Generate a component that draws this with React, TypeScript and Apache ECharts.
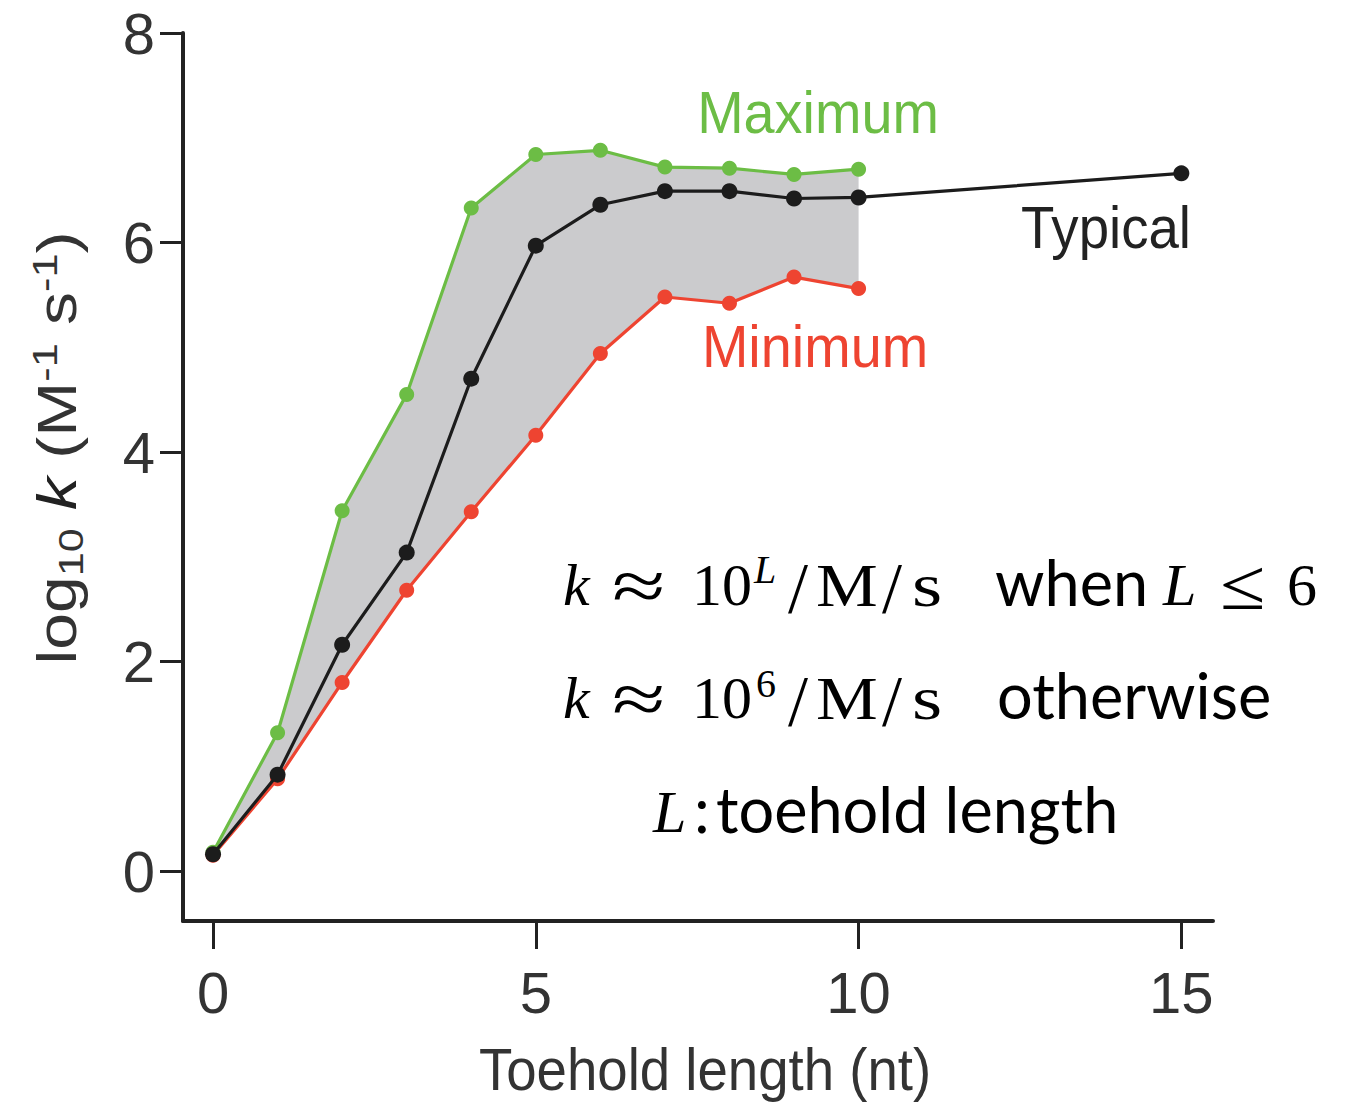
import React, { useEffect, useRef } from "react";
import * as echarts from "echarts";

const toeholdLengths = [0, 1, 2, 3, 4, 5, 6, 7, 8, 9, 10];
const typicalLengths = [0, 1, 2, 3, 4, 5, 6, 7, 8, 9, 10, 15];
const typicalValues = [0.16, 0.92, 2.16, 3.04, 4.7, 5.97, 6.36, 6.49, 6.49, 6.42, 6.43, 6.66];
const maximumValues = [0.18, 1.32, 3.44, 4.55, 6.33, 6.84, 6.88, 6.72, 6.71, 6.65, 6.7];
const minimumValues = [0.15, 0.88, 1.8, 2.68, 3.43, 4.16, 4.94, 5.48, 5.42, 5.67, 5.56];
const xTickValues = [0, 5, 10, 15];
const yTickValues = [0, 2, 4, 6, 8];

const SANS = "'Liberation Sans', Arial, Helvetica, sans-serif";
const SERIF = "'Liberation Serif', 'Times New Roman', serif";
const TEXT = "Lato, 'Open Sans', sans-serif";

const GREEN = "#6cbd45";
const RED = "#ee4431";
const BLACK = "#1c1c1c";
const AXIS = "#222222";
const BAND = "#cbcbcd";
const LABEL = "#333333";

function t(x: number, y: number, text: string, size: number, italic = false, family = SERIF, scaleX = 1) {
  return {
    type: "text",
    x,
    y,
    scaleX,
    style: {
      text,
      fill: "#000",
      font: `${italic ? "italic " : ""}${size}px ${family}`,
      align: "left",
      verticalAlign: "middle",
    },
  };
}

function label(x: number, y: number, text: string, color: string, scaleX: number) {
  return {
    type: "text",
    x,
    y,
    scaleX,
    style: { text, fill: color, font: `60px ${SANS}`, align: "center", verticalAlign: "middle" },
  };
}

export default function App() {
  const ref = useRef<HTMLDivElement>(null);

  useEffect(() => {
    if (!ref.current) return;
    const chart = echarts.init(ref.current, undefined, { renderer: "svg" });

    const pair = (xs: number[], ys: number[]) => ys.map((v, i) => [xs[i], v]);

    const option: any = {
      animation: false,
      backgroundColor: "#ffffff",
      grid: { left: 183, right: 143, top: 33, bottom: 181, containLabel: false },
      xAxis: {
        type: "value",
        min: -0.465,
        max: 15.49,
        splitLine: { show: false },
        axisLine: { show: true, onZero: false, lineStyle: { color: AXIS, width: 4 } },
        axisTick: {
          show: true,
          customValues: xTickValues,
          length: 28,
          lineStyle: { color: AXIS, width: 3 },
        },
        axisLabel: {
          customValues: xTickValues,
          fontSize: 58,
          fontFamily: SANS,
          color: LABEL,
          margin: 42,
        },
      },
      yAxis: {
        type: "value",
        min: -0.477,
        max: 8,
        splitLine: { show: false },
        axisLine: { show: true, onZero: false, lineStyle: { color: AXIS, width: 4 } },
        axisTick: {
          show: true,
          customValues: yTickValues,
          length: 23,
          lineStyle: { color: AXIS, width: 3 },
        },
        axisLabel: {
          customValues: yTickValues,
          fontSize: 58,
          fontFamily: SANS,
          color: LABEL,
          margin: 28,
        },
      },
      series: [
        {
          name: "band",
          type: "custom",
          data: [[0, 0]],
          silent: true,
          z: 1,
          renderItem: (params: any, api: any) => {
            if (params.dataIndex !== 0) return null;
            const upper = toeholdLengths.map((x, i) => api.coord([x, maximumValues[i]]));
            const lower = toeholdLengths.map((x, i) => api.coord([x, minimumValues[i]])).reverse();
            return {
              type: "polygon",
              shape: { points: upper.concat(lower) },
              style: { fill: BAND, stroke: "none" },
            };
          },
        },
        {
          name: "Maximum",
          type: "line",
          data: pair(toeholdLengths, maximumValues),
          symbol: "circle",
          symbolSize: 15,
          itemStyle: { color: GREEN },
          lineStyle: { color: GREEN, width: 3.2 },
          z: 3,
        },
        {
          name: "Minimum",
          type: "line",
          data: pair(toeholdLengths, minimumValues),
          symbol: "circle",
          symbolSize: 15,
          itemStyle: { color: RED },
          lineStyle: { color: RED, width: 3.2 },
          z: 3,
        },
        {
          name: "Typical",
          type: "line",
          data: pair(typicalLengths, typicalValues),
          symbol: "circle",
          symbolSize: 16,
          itemStyle: { color: BLACK },
          lineStyle: { color: BLACK, width: 3.2 },
          z: 4,
        },
      ],
      graphic: [
        {
          type: "text",
          x: 57,
          y: 448,
          rotation: Math.PI / 2,
          scaleX: 1.2,
          style: {
            text: "{a|log}{sub|10}{a| }{k|k}{a| (M}{sup|-1}{a| s}{sup|-1}{a|)}",
            align: "center",
            verticalAlign: "middle",
            fill: LABEL,
            rich: {
              a: { fontSize: 55, fontFamily: SANS, lineHeight: 62, fill: LABEL },
              k: { fontSize: 55, fontFamily: SANS, fontStyle: "italic", lineHeight: 62, fill: "#222" },
              sub: { fontSize: 36, fontFamily: SANS, verticalAlign: "bottom", lineHeight: 36, fill: LABEL },
              sup: { fontSize: 36, fontFamily: SANS, verticalAlign: "top", lineHeight: 36, fill: LABEL },
            },
          },
        },
        {
          type: "text",
          x: 705,
          y: 1069,
          scaleX: 0.91,
          style: {
            text: "Toehold length (nt)",
            fill: LABEL,
            font: `60px ${SANS}`,
            align: "center",
            verticalAlign: "middle",
          },
        },
        label(818, 112, "Maximum", GREEN, 0.93),
        label(1106, 227, "Typical", "#222", 0.91),
        label(815, 346, "Minimum", RED, 0.93),
        // line 1
        t(563, 585, "k", 60, true),
        t(612, 586, "≈", 72, false, SERIF, 1.35),
        t(692, 585, "10", 60),
        t(754, 569, "L", 40, true),
        t(788, 588, "/", 72),
        t(816, 585, "M", 62, false, SERIF, 1.12),
        t(882, 588, "/", 72),
        t(912, 585, "s", 62, false, SERIF, 1.25),
        t(995, 581, "when", 63, false, TEXT),
        t(1163, 585, "L", 60, true),
        t(1220, 585, "≤", 72, false, SERIF, 1.15),
        t(1287, 585, "6", 60),
        // line 2
        t(563, 698, "k", 60, true),
        t(612, 699, "≈", 72, false, SERIF, 1.35),
        t(692, 698, "10", 60),
        t(756, 683, "6", 40),
        t(788, 701, "/", 72),
        t(816, 698, "M", 62, false, SERIF, 1.12),
        t(882, 701, "/", 72),
        t(912, 698, "s", 62, false, SERIF, 1.25),
        t(997, 694, "otherwise", 63, false, TEXT),
        // line 3
        t(653, 812, "L", 60, true),
        t(694, 808, ":", 63, false, TEXT),
        t(716, 808, "toehold length", 63, false, TEXT),
      ],
    };

    chart.setOption(option);
    return () => chart.dispose();
  }, []);

  return (
    <div
      ref={ref}
      style={{ position: "absolute", left: 0, top: 0, width: 1356, height: 1102, background: "#fff" }}
    />
  );
}
